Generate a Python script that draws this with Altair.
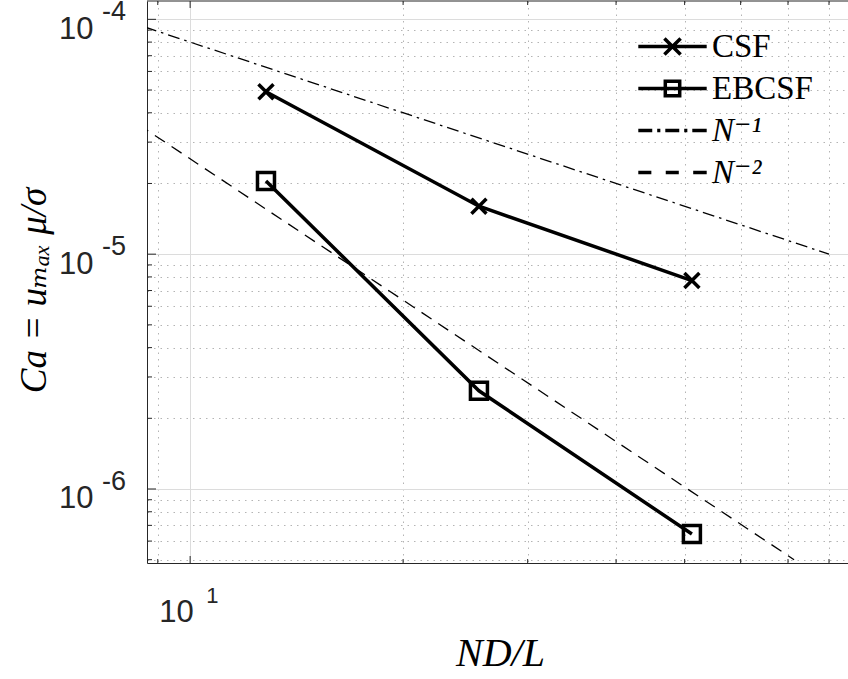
import altair as alt
import pandas as pd

# ---------------- data ----------------
nd_over_l = [12.8, 25.6, 51.2]
ca_csf = [4.92e-5, 1.60e-5, 7.72e-6]
ca_ebcsf = [2.05e-5, 2.62e-6, 6.43e-7]

ref1_x = [8.0, 80.0]          # N^-1 guide line
ref1_y = [1.0e-4, 1.0e-5]
ref2_x = [8.0, 71.4]          # N^-2 guide line
ref2_y = [3.98e-5, 5.0e-7]

series_names = ["CSF", "EBCSF", "N⁻¹", "N⁻²"]

x_major_ticks = [10]
x_minor_ticks = [9, 20, 30, 40, 50, 60, 70, 80]
x_exponent_labels = ["1"]

y_major_ticks = [1e-6, 1e-5, 1e-4]
y_minor_ticks = [5e-7, 6e-7, 7e-7, 8e-7, 9e-7,
                 2e-6, 3e-6, 4e-6, 5e-6, 6e-6, 7e-6, 8e-6, 9e-6,
                 2e-5, 3e-5, 4e-5, 5e-5, 6e-5, 7e-5, 8e-5, 9e-5]
y_exponent_labels = ["-6", "-5", "-4"]

# ---------------- styling ----------------
W, H = 701, 562
AX = "#262626"
SANS = "Liberation Sans, Arial, Helvetica, sans-serif"
SERIF = "Liberation Serif, DejaVu Serif, Times New Roman, serif"
MAJOR = "abs(log(datum.value)/LN10 - round(log(datum.value)/LN10)) < 0.000001"

xs = alt.Scale(type="log", domain=[8.69, 85.1], nice=False)
ys = alt.Scale(type="log", domain=[4.84e-7, 1.197e-4], nice=False)

grid_color = {"condition": {"test": MAJOR, "value": "#dcdcdc"}, "value": "#b4b4b4"}
grid_dash = {"condition": {"test": MAJOR, "value": []}, "value": [1.5, 5]}

x_axis = alt.Axis(
    values=x_major_ticks + x_minor_ticks, grid=True, ticks=False, tickSize=0,
    domain=True, domainColor=AX, domainWidth=1,
    gridColor=grid_color, gridDash=grid_dash, gridWidth=1,
    labelExpr=f"{MAJOR} ? '10' : ''", labelFont=SANS, labelFontSize=31,
    labelColor=AX, labelAlign="right", labelBaseline="alphabetic",
    labelPadding=58, labelOffset=3, labelFlush=False, labelOverlap=False,
    title="ND/L", titleFont=SERIF, titleFontStyle="italic", titleFontSize=40,
    titleFontWeight="normal", titleColor="black", titleBaseline="alphabetic",
    titleX=353, titleY=102,
)
y_axis = alt.Axis(
    values=y_major_ticks + y_minor_ticks, grid=True, ticks=False, tickSize=0,
    domain=True, domainColor=AX, domainWidth=1,
    gridColor=grid_color, gridDash=grid_dash, gridWidth=1,
    labelExpr=f"{MAJOR} ? '10' : ''", labelFont=SANS, labelFontSize=31,
    labelColor=AX, labelAlign="right", labelBaseline="alphabetic",
    labelPadding=54, labelOffset=19, labelFlush=False, labelOverlap=False,
    title="Ca = uₘₐₓ μ/σ", titleFont=SERIF, titleFontStyle="italic", titleFontSize=37,
    titleFontWeight="normal", titleColor="black", titleBaseline="alphabetic",
    titleX=-102, titleY=289,
)


def X(f):
    return alt.X(f, type="quantitative", scale=xs, axis=x_axis)


def Y(f):
    return alt.Y(f, type="quantitative", scale=ys, axis=y_axis)


X_PATH = "M-1,-1L1,1M-1,1L1,-1"
legend_paths = [
    "M-3.8,0L3.8,0M-0.9,-0.9L0.9,0.9M-0.9,0.9L0.9,-0.9",
    "M-3.8,0L3.8,0M-0.8,-0.8L0.8,-0.8L0.8,0.8L-0.8,0.8Z",
    "M-3.8,0L-2.25,0M-1.7,0L-1.35,0M-0.8,0L0.75,0M1.3,0L1.65,0M2.2,0L3.8,0",
    "M-3.8,0L-2.35,0M-0.75,0L0.7,0M2.3,0L3.8,0",
]

# ---------------- tables ----------------
df_ref1 = pd.DataFrame({"x": ref1_x, "y": ref1_y})
df_ref2 = pd.DataFrame({"x": ref2_x, "y": ref2_y})
df_csf = pd.DataFrame({"x": nd_over_l, "y": ca_csf})
df_eb = pd.DataFrame({"x": nd_over_l, "y": ca_ebcsf})
df_xmaj = pd.DataFrame({"x": x_major_ticks, "t": x_exponent_labels})
df_xmin = pd.DataFrame({"x": x_minor_ticks})
df_ymaj = pd.DataFrame({"y": y_major_ticks, "t": y_exponent_labels})
df_ymin = pd.DataFrame({"y": y_minor_ticks})
df_leg = pd.DataFrame({"series": series_names})

# ---------------- layers ----------------
ref1 = alt.Chart(df_ref1).mark_line(color="black", strokeWidth=1.3,
                                    strokeDash=[12, 5, 2.5, 5], clip=True).encode(x=X("x"), y=Y("y"))
ref2 = alt.Chart(df_ref2).mark_line(color="black", strokeWidth=1.3,
                                    strokeDash=[12, 8], clip=True).encode(x=X("x"), y=Y("y"))

csf_line = alt.Chart(df_csf).mark_line(color="black", strokeWidth=3.5).encode(x=X("x"), y=Y("y"))
csf_pts = alt.Chart(df_csf).mark_point(shape=X_PATH, size=225, strokeWidth=3.5, color="black",
                                       filled=False, opacity=1).encode(x=X("x"), y=Y("y"))
eb_line = alt.Chart(df_eb).mark_line(color="black", strokeWidth=3.5).encode(x=X("x"), y=Y("y"))
eb_pts = alt.Chart(df_eb).mark_point(shape="square", size=289, strokeWidth=3.5, color="black",
                                     filled=False, opacity=1).encode(x=X("x"), y=Y("y"))

# inward ticks
y_maj_t = alt.Chart(df_ymaj).mark_rule(color=AX, strokeWidth=1).encode(
    y=Y("y"), x=alt.value(0), x2=alt.value(9))
y_min_t = alt.Chart(df_ymin).mark_rule(color=AX, strokeWidth=1).encode(
    y=Y("y"), x=alt.value(0), x2=alt.value(5))
xb_maj_t = alt.Chart(df_xmaj).mark_rule(color=AX, strokeWidth=1).encode(
    x=X("x"), y=alt.value(H), y2=alt.value(H - 7))
xb_min_t = alt.Chart(df_xmin).mark_rule(color=AX, strokeWidth=1).encode(
    x=X("x"), y=alt.value(H), y2=alt.value(H - 4))
xt_maj_t = alt.Chart(df_xmaj).mark_rule(color=AX, strokeWidth=1).encode(
    x=X("x"), y=alt.value(0), y2=alt.value(7))
xt_min_t = alt.Chart(df_xmin).mark_rule(color=AX, strokeWidth=1).encode(
    x=X("x"), y=alt.value(0), y2=alt.value(4))
top_border = alt.Chart(df_xmaj).mark_rule(color=AX, strokeWidth=1).encode(y=alt.value(0))

# exponents of the tick labels
y_exp = alt.Chart(df_ymaj).mark_text(align="left", baseline="alphabetic", dy=1, font=SANS,
                                     fontSize=27, color=AX).encode(
    y=Y("y"), x=alt.value(-45), text="t:N")
x_exp = alt.Chart(df_xmaj).mark_text(align="left", baseline="alphabetic", dx=16, font=SANS,
                                     fontSize=22, color=AX).encode(
    x=X("x"), y=alt.value(H + 40), text="t:N")

# legend (drawn by Vega-Lite's own legend from shape + strokeWidth scales)
leg = alt.Legend(
    title=None, orient="none", legendX=509, legendY=29, padding=0,
    labelFont=SERIF, labelFontSize=33, labelColor="black", labelOffset=23, labelLimit=0,
    labelFontStyle=alt.ExprRef(expr="indexof(datum.label, 'N') == 0 ? 'italic' : 'normal'"),
    symbolSize=324, symbolStrokeColor="black", symbolOpacity=1, rowPadding=8,
)
legend_layer = alt.Chart(df_leg).mark_point(color="black", filled=False, clip=True, opacity=1).encode(
    x=alt.value(-300), y=alt.value(-300),
    shape=alt.Shape("series:N", scale=alt.Scale(domain=series_names, range=legend_paths), legend=leg),
    strokeWidth=alt.StrokeWidth("series:N", scale=alt.Scale(domain=series_names, range=[3.5, 3.5, 1.3, 1.3]),
                                legend=leg),
)

chart = alt.layer(
    ref1, ref2, csf_line, eb_line, csf_pts, eb_pts,
    y_maj_t, y_min_t, xb_maj_t, xb_min_t, xt_maj_t, xt_min_t, top_border,
    y_exp, x_exp, legend_layer,
).properties(
    width=W, height=H,
    autosize=alt.AutoSizeParams(type="none"),
    padding={"left": 147, "top": 1, "right": 0, "bottom": 116},
    background="white",
).configure_view(stroke=None)

chart.save("out.html", embed_options={"renderer": "svg", "actions": False})
